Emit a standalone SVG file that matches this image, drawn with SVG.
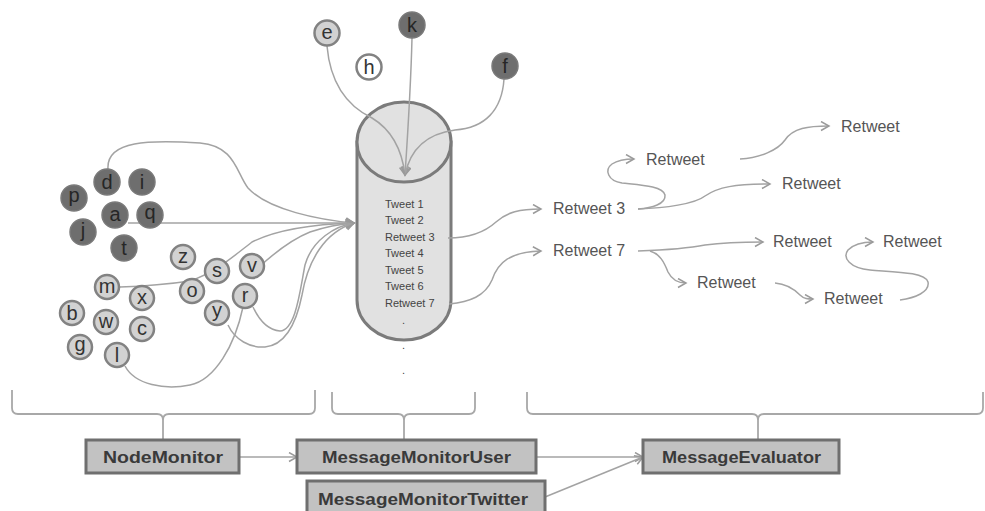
<svg xmlns="http://www.w3.org/2000/svg" width="985" height="511" viewBox="0 0 985 511">
  <defs>
    <marker id="ah" markerUnits="userSpaceOnUse" markerWidth="12" markerHeight="12" refX="9" refY="5" orient="auto">
      <path d="M1,0.5 L9,5 L1,9.5" fill="none" stroke="#9a9a9a" stroke-width="1.5"/>
    </marker>
  </defs>
  <style>
    .lnk { fill: none; stroke: #a3a3a3; stroke-width: 1.5; }
    .arr { marker-end: url(#ah); }
    .brace { fill: none; stroke: #a8a8a8; stroke-width: 1.8; }
    .dark circle { fill: #6e6e6e; stroke: #7a7a7a; stroke-width: 1.5; }
    .light circle { fill: #d2d2d2; stroke: #828282; stroke-width: 2.5; }
    .open circle { fill: #ffffff; stroke: #828282; stroke-width: 2.5; }
    .ltr { font-family: "Liberation Sans", Arial, sans-serif; font-size: 20px; text-anchor: middle; fill: #333333; }
    .dark .ltr { fill: #262626; }
    .cyl { fill: #e1e1e1; stroke: #7b7b7b; stroke-width: 3; }
    .tw { font-family: "Liberation Sans", Arial, sans-serif; font-size: 11px; fill: #444444; }
    .rt { font-family: "Liberation Sans", Arial, sans-serif; font-size: 16px; fill: #555555; }
    .box rect { fill: #c2c2c2; stroke: #6f6f6f; stroke-width: 3; }
    .box text { font-family: "Liberation Sans", Arial, sans-serif; font-size: 16px; font-weight: bold; fill: #3a3a3a; }
  </style>

  <rect width="985" height="511" fill="#ffffff"/>

  <!-- message store (cylinder) -->
  <g id="store">
    <path class="cyl" d="M357,142 L357,300 A47,40 0 0 0 451,300 L451,142 Z"/>
    <ellipse class="cyl" cx="404" cy="142" rx="47" ry="40"/>
    <text class="tw" x="385" y="208">Tweet 1</text>
    <text class="tw" x="385" y="224">Tweet 2</text>
    <text class="tw" x="385" y="241">Retweet 3</text>
    <text class="tw" x="385" y="257">Tweet 4</text>
    <text class="tw" x="385" y="274">Tweet 5</text>
    <text class="tw" x="385" y="290">Tweet 6</text>
    <text class="tw" x="385" y="307">Retweet 7</text>
    <text class="tw" x="402" y="324">.</text>
    <text class="tw" x="402" y="349">.</text>
    <text class="tw" x="402" y="374">.</text>
  </g>

  <!-- connectors -->
  <g id="connectors">
    <!-- top users into the store -->
    <path class="lnk arr" d="M327,46 C330,80 345,105 372,118 C392,130 402,150 405,175"/>
    <path class="lnk arr" d="M412,38 C411,80 408,130 405,175"/>
    <path class="lnk arr" d="M504,79 C502,110 485,128 455,130 C425,134 410,150 405,175"/>
    <!-- left cluster into the store -->
    <path class="lnk arr" d="M108,169 C106,140 150,140 200,143 C235,146 236,172 248,188 C268,210 320,220 354,223"/>
    <path class="lnk arr" d="M128,223 L354,223"/>
    <path class="lnk arr" d="M120,287 C150,286 170,284 190,281 C215,273 235,255 252,242 C280,228 320,224 354,223"/>
    <path class="lnk arr" d="M258,268 C272,255 290,240 310,232 C325,227 340,224 354,223"/>
    <path class="lnk arr" d="M253,307 C260,322 268,330 280,331 C296,330 300,290 305,265 C312,240 335,226 354,223"/>
    <path class="lnk arr" d="M228,325 C235,340 250,348 265,347 C285,345 296,325 302,295 C308,260 325,232 354,223"/>
    <path class="lnk" d="M125,366 C135,385 165,390 190,385 C215,380 235,345 243,307"/>
    <!-- store to first-level retweets -->
    <path class="lnk arr" d="M448,238 C470,238 485,232 496,222 C507,212 520,209 541,209"/>
    <path class="lnk arr" d="M449,304 C470,302 485,296 492,280 C498,262 510,252 541,251"/>
    <!-- Retweet 3 cascade -->
    <path class="lnk arr" d="M638,209 C652,208 666,204 665,195 C663,186 640,185 622,183 C608,181 604,170 612,164 C618,160 625,159 634,159"/>
    <path class="lnk arr" d="M638,209 C665,208 695,204 705,196 C718,187 735,184 770,184"/>
    <path class="lnk arr" d="M740,159 C760,158 778,150 785,140 C793,128 808,126 829,126"/>
    <!-- Retweet 7 cascade -->
    <path class="lnk arr" d="M638,251 C665,250 690,248 705,245 C720,243 740,242 763,242"/>
    <path class="lnk arr" d="M650,251 C660,254 664,262 668,272 C672,280 678,283 686,283"/>
    <path class="lnk arr" d="M775,283 C788,284 795,290 800,295 C804,299 808,299 813,299"/>
    <path class="lnk arr" d="M900,300 C915,298 930,292 928,282 C925,272 895,272 870,270 C850,268 842,258 848,250 C854,244 862,242 873,242"/>
    <!-- component pipeline -->
    <path class="lnk arr" d="M239,457 L297,457"/>
    <path class="lnk arr" d="M536,457 L643,457"/>
    <path class="lnk arr" d="M545,497 L643,457"/>
  </g>

  <!-- braces grouping the areas -->
  <g id="braces">
    <path class="brace" d="M12,390 L12,408 Q12,414 18,414 L157,414 Q163,414 163,420 L163,440 M315,390 L315,408 Q315,414 309,414 L169,414 Q163,414 163,420"/>
    <path class="brace" d="M332,392 L332,408 Q332,414 338,414 L398,414 Q404,414 404,420 L404,440 M475,392 L475,408 Q475,414 469,414 L410,414 Q404,414 404,420"/>
    <path class="brace" d="M527,392 L527,408 Q527,414 533,414 L752,414 Q758,414 758,420 L758,440 M983,392 L983,408 Q983,414 977,414 L764,414 Q758,414 758,420"/>
  </g>

  <!-- users around the store (top) -->
  <g id="node-e" class="light"><circle cx="327" cy="33" r="12.5"/><text class="ltr" x="327" y="39">e</text></g>
  <g id="node-h" class="open"><circle cx="369" cy="67" r="12.5"/><text class="ltr" x="369" y="74">h</text></g>
  <g id="node-k" class="dark"><circle cx="412" cy="25" r="13"/><text class="ltr" x="412" y="32">k</text></g>
  <g id="node-f" class="dark"><circle cx="505" cy="66" r="13"/><text class="ltr" x="505" y="73">f</text></g>

  <!-- dark user cluster -->
  <g id="node-d" class="dark"><circle cx="107" cy="182" r="13"/><text class="ltr" x="107" y="189">d</text></g>
  <g id="node-i" class="dark"><circle cx="142" cy="182" r="13"/><text class="ltr" x="142" y="189">i</text></g>
  <g id="node-p" class="dark"><circle cx="74" cy="198" r="13"/><text class="ltr" x="74" y="202">p</text></g>
  <g id="node-a" class="dark"><circle cx="115" cy="215" r="13"/><text class="ltr" x="115" y="221">a</text></g>
  <g id="node-q" class="dark"><circle cx="150" cy="215" r="13"/><text class="ltr" x="150" y="219">q</text></g>
  <g id="node-j" class="dark"><circle cx="83" cy="232" r="13"/><text class="ltr" x="83" y="237">j</text></g>
  <g id="node-t" class="dark"><circle cx="124" cy="248" r="13"/><text class="ltr" x="124" y="255">t</text></g>

  <!-- light user cluster -->
  <g id="node-z" class="light"><circle cx="183" cy="257" r="12"/><text class="ltr" x="183" y="263">z</text></g>
  <g id="node-s" class="light"><circle cx="217" cy="271" r="12"/><text class="ltr" x="217" y="277">s</text></g>
  <g id="node-v" class="light"><circle cx="252" cy="266" r="12"/><text class="ltr" x="252" y="272">v</text></g>
  <g id="node-o" class="light"><circle cx="192" cy="291" r="12"/><text class="ltr" x="192" y="297">o</text></g>
  <g id="node-r" class="light"><circle cx="245" cy="296" r="12"/><text class="ltr" x="245" y="302">r</text></g>
  <g id="node-m" class="light"><circle cx="107" cy="287" r="12"/><text class="ltr" x="107" y="293">m</text></g>
  <g id="node-x" class="light"><circle cx="142" cy="298" r="12"/><text class="ltr" x="142" y="304">x</text></g>
  <g id="node-y" class="light"><circle cx="217" cy="313" r="12"/><text class="ltr" x="217" y="317">y</text></g>
  <g id="node-b" class="light"><circle cx="72" cy="313" r="12"/><text class="ltr" x="72" y="320">b</text></g>
  <g id="node-w" class="light"><circle cx="106" cy="322" r="12"/><text class="ltr" x="106" y="328">w</text></g>
  <g id="node-c" class="light"><circle cx="142" cy="329" r="12"/><text class="ltr" x="142" y="335">c</text></g>
  <g id="node-g" class="light"><circle cx="80" cy="347" r="12"/><text class="ltr" x="80" y="351">g</text></g>
  <g id="node-l" class="light"><circle cx="117" cy="355" r="12"/><text class="ltr" x="117" y="362">l</text></g>

  <!-- retweet chains -->
  <g id="rt3"><text class="rt" x="553" y="214">Retweet 3</text></g>
  <g id="rt7"><text class="rt" x="553" y="256">Retweet 7</text></g>
  <g id="rt3-a"><text class="rt" x="646" y="165">Retweet</text></g>
  <g id="rt3-b"><text class="rt" x="782" y="189">Retweet</text></g>
  <g id="rt3-a-a"><text class="rt" x="841" y="132">Retweet</text></g>
  <g id="rt7-a"><text class="rt" x="773" y="247">Retweet</text></g>
  <g id="rt7-b"><text class="rt" x="697" y="288">Retweet</text></g>
  <g id="rt7-b-a"><text class="rt" x="824" y="304">Retweet</text></g>
  <g id="rt7-b-a-a"><text class="rt" x="883" y="247">Retweet</text></g>

  <!-- monitoring components -->
  <g id="NodeMonitor" class="box">
    <rect x="86" y="440" width="153" height="33"/>
    <text x="103" y="463" textLength="120" lengthAdjust="spacingAndGlyphs">NodeMonitor</text>
  </g>
  <g id="MessageMonitorUser" class="box">
    <rect x="297" y="440" width="239" height="33"/>
    <text x="322" y="463" textLength="189" lengthAdjust="spacingAndGlyphs">MessageMonitorUser</text>
  </g>
  <g id="MessageMonitorTwitter" class="box">
    <rect x="307" y="481" width="238" height="36"/>
    <text x="318" y="505" textLength="210" lengthAdjust="spacingAndGlyphs">MessageMonitorTwitter</text>
  </g>
  <g id="MessageEvaluator" class="box">
    <rect x="643" y="440" width="196" height="33"/>
    <text x="662" y="463" textLength="159" lengthAdjust="spacingAndGlyphs">MessageEvaluator</text>
  </g>
</svg>
